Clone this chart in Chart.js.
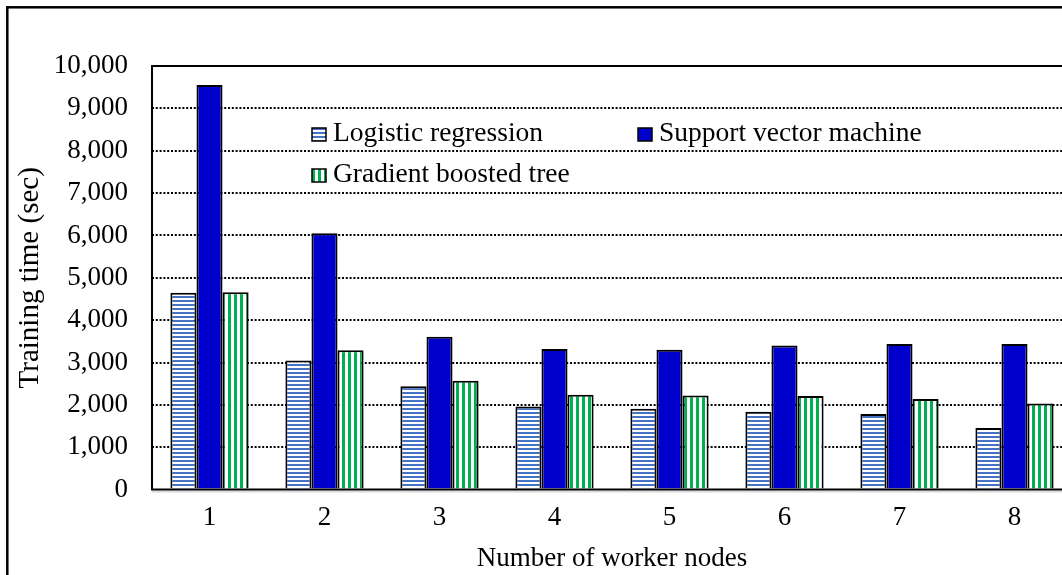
<!DOCTYPE html>
<html>
<head>
<meta charset="utf-8">
<script src="https://cdn.jsdelivr.net/npm/chart.js@4.4.1/dist/chart.umd.min.js"></script>
<style>
  body { margin: 0; background: #fff; }
  #wrap { width: 1062px; height: 575px; overflow: hidden; position: relative; }
</style>
</head>
<body>
<div id="wrap"><canvas id="myChart" width="1090" height="575"></canvas></div>
<script>
// data
var categories = ["1", "2", "3", "4", "5", "6", "7", "8"];
var logisticRegression = [4650, 3050, 2440, 1960, 1910, 1840, 1785, 1455];
var supportVectorMachine = [9550, 6050, 3610, 3320, 3300, 3400, 3440, 3440];
var gradientBoostedTree = [4660, 3290, 2570, 2240, 2220, 2210, 2140, 2035];
var seriesNames = ["Logistic regression", "Support vector machine", "Gradient boosted tree"];
var yTickLabels = ["0", "1,000", "2,000", "3,000", "4,000", "5,000", "6,000", "7,000", "8,000", "9,000", "10,000"];

var FONT = "'Liberation Serif', 'Times New Roman', serif";
var canvas = document.getElementById('myChart');
var ctx = canvas.getContext('2d');

// striped fills
function stripes(horizontal, color, period, band) {
    var c = document.createElement('canvas');
    c.width = horizontal ? 8 : period;
    c.height = horizontal ? period : 8;
    var g = c.getContext('2d');
    g.fillStyle = '#fff';
    g.fillRect(0, 0, c.width, c.height);
    g.fillStyle = color;
    if (horizontal) g.fillRect(0, 0, c.width, band);
    else g.fillRect(0, 0, band, c.height);
    return ctx.createPattern(c, 'repeat');
}
var hStripe = stripes(true, '#4472C4', 4, 2);
var vStripe = stripes(false, '#00B050', 6, 3);

// frame, plot border and legend
var decor = {
    id: 'decor',
    beforeDraw: function(chart) {
        var c = chart.ctx;
        c.save();
        c.fillStyle = '#fff';
        c.fillRect(0, 0, chart.width, chart.height);
        c.strokeStyle = '#000';
        c.lineWidth = 2.5;
        c.strokeRect(7.3, 7.3, chart.width + 20, chart.height + 20);
        c.restore();
    },
    afterDatasetsDraw: function(chart) {
        var c = chart.ctx;
        var a = chart.chartArea;
        c.save();
        c.strokeStyle = '#D9D9D9';
        c.lineWidth = 2;
        c.beginPath();
        c.moveTo(a.left, a.bottom + 2);
        c.lineTo(a.right, a.bottom + 2);
        c.stroke();
        c.strokeStyle = '#000';
        c.lineWidth = 2;
        c.beginPath();
        c.moveTo(a.right, a.top);
        c.lineTo(a.left, a.top);
        c.lineTo(a.left, a.bottom);
        c.lineTo(a.right, a.bottom);
        c.stroke();

        // legend
        var spots = [[160, 75], [486, 75], [160, 116]];
        c.font = '27.5px ' + FONT;
        c.textBaseline = 'alphabetic';
        c.textAlign = 'left';
        chart.data.datasets.forEach(function(ds, i) {
            var x = a.left + spots[i][0];
            var y = a.top + spots[i][1];
            c.fillStyle = ds.backgroundColor;
            c.fillRect(x, y - 13, 14, 13);
            c.lineWidth = 1.5;
            c.strokeStyle = '#000';
            c.strokeRect(x, y - 13, 14, 13);
            c.fillStyle = '#000';
            c.fillText(ds.label, x + 21, y);
        });
        c.restore();
    }
};

var chart = new Chart(ctx, {
    type: 'bar',
    data: {
        labels: categories,
        datasets: [{
            label: seriesNames[0],
            data: logisticRegression,
            backgroundColor: hStripe,
            borderColor: '#000',
            borderWidth: 2
        }, {
            label: seriesNames[1],
            data: supportVectorMachine,
            backgroundColor: '#0000CC',
            borderColor: '#000',
            borderWidth: 2
        }, {
            label: seriesNames[2],
            data: gradientBoostedTree,
            backgroundColor: vStripe,
            borderColor: '#000',
            borderWidth: 2
        }]
    },
    options: {
        responsive: false,
        animation: false,
        layout: { padding: { top: 66, right: 18, bottom: 3, left: 0 } },
        datasets: { bar: { barPercentage: 1, categoryPercentage: 0.68 } },
        plugins: { legend: { display: false }, tooltip: { enabled: false } },
        scales: {
            x: {
                grid: { display: false, drawTicks: false },
                border: { display: false },
                ticks: { color: '#000', padding: 12, font: { family: FONT, size: 27 } },
                title: {
                    display: true,
                    text: 'Number of worker nodes',
                    color: '#000',
                    padding: { top: -1, bottom: 0 },
                    font: { family: FONT, size: 27, lineHeight: 1 }
                }
            },
            y: {
                min: 0,
                max: 10000,
                afterFit: function(scale) { scale.width = 152; },
                grid: {
                    drawTicks: false,
                    lineWidth: 2,
                    color: function(c) {
                        if (c.tick && (c.tick.value === 0 || c.tick.value === 10000)) return 'rgba(0,0,0,0)';
                        return '#000';
                    }
                },
                border: { display: false, dash: [2, 1.8] },
                ticks: {
                    stepSize: 1000,
                    color: '#000',
                    padding: 24,
                    font: { family: FONT, size: 27 },
                    callback: function(v, i) { return yTickLabels[i]; }
                },
                title: {
                    display: true,
                    text: 'Training time (sec)',
                    color: '#000',
                    padding: { top: 13, bottom: 0 },
                    font: { family: FONT, size: 29 }
                }
            }
        }
    },
    plugins: [decor]
});
</script>
</body>
</html>
